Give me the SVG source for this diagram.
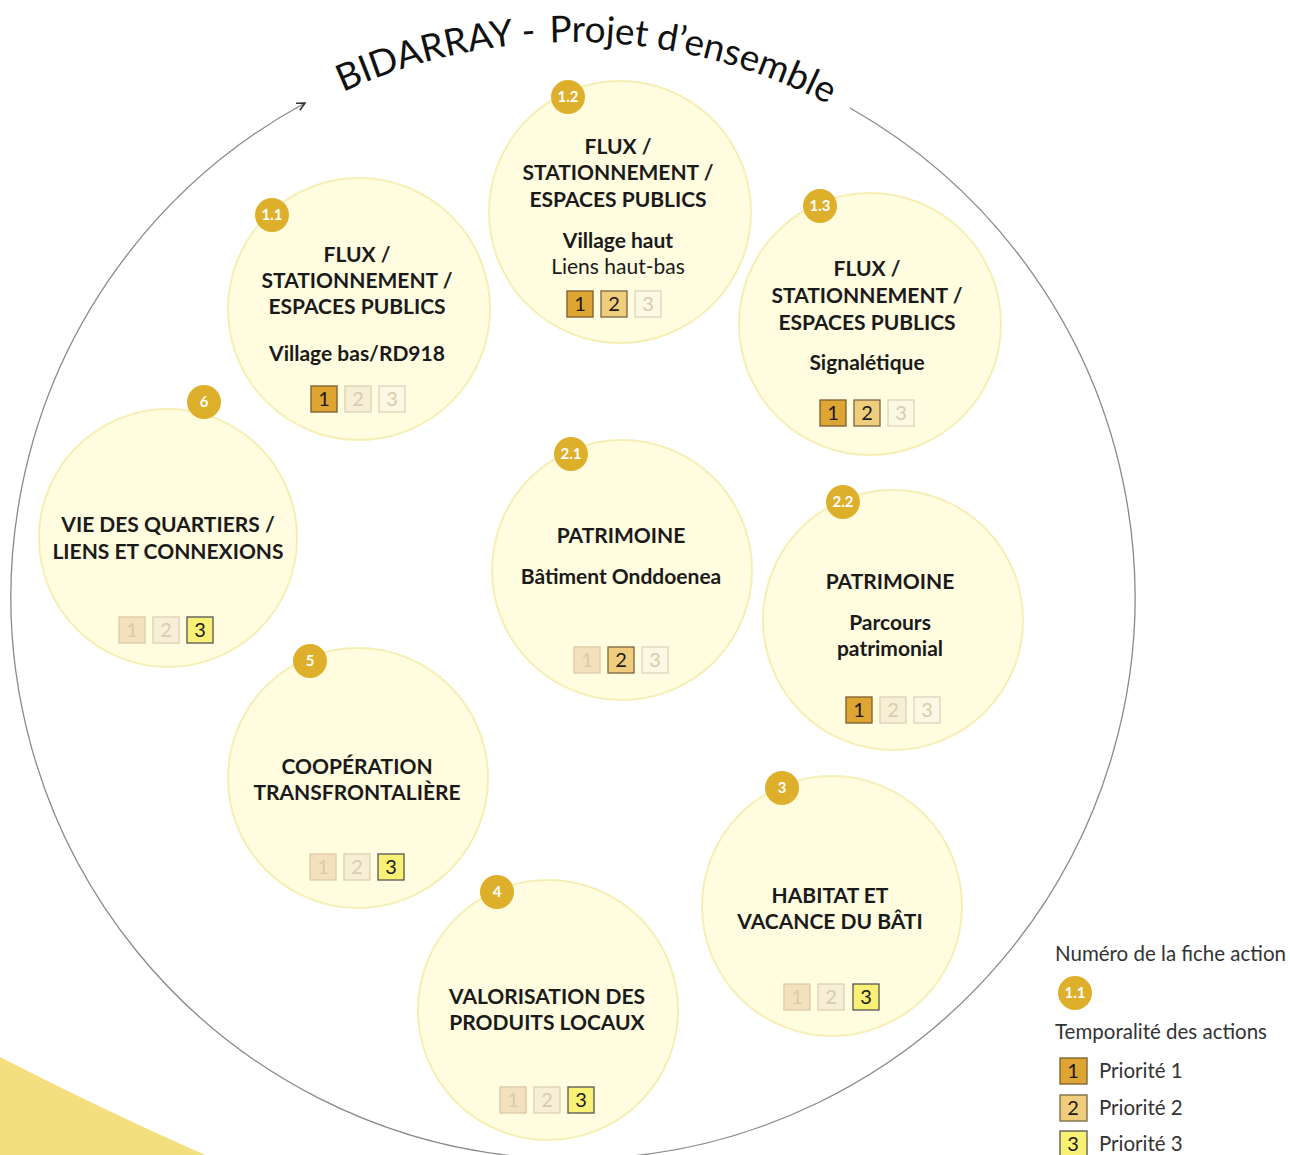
<svg xmlns="http://www.w3.org/2000/svg" width="1290" height="1155" viewBox="0 0 1290 1155">
<style>
.node{fill:#FFFCDF;stroke:#F6EFB5;stroke-width:2}
.badge{fill:#DEAF2A}
.bl{font-family:Lato,"Liberation Sans",sans-serif;font-weight:bold;font-size:15px;fill:#fff;text-anchor:middle}
.h{font-family:Lato,"Liberation Sans",sans-serif;font-weight:bold;font-size:21px;fill:#1a1a1a;text-anchor:middle}
.r{font-family:Lato,"Liberation Sans",sans-serif;font-size:21px;fill:#1a1a1a;text-anchor:middle}
.d{font-family:Lato,"Liberation Sans",sans-serif;font-size:20px;text-anchor:middle;fill:#1a1a1a}
.dI{fill:#D9CBAE}
.b1{fill:#DFA533;stroke:#7A5C2E;stroke-width:1.3}
.b2{fill:#F0CD7C;stroke:#7A6440;stroke-width:1.3}
.b3{fill:#F9F176;stroke:#555;stroke-width:1.3}
.i1{fill:#F2E1BC;stroke:#D9C9A6;stroke-width:1.3}
.i2{fill:#F7EFD5;stroke:#DCD0B5;stroke-width:1.3}
.i3{fill:#FBF8E3;stroke:#DDD3BC;stroke-width:1.3}
.lg{font-family:Lato,"Liberation Sans",sans-serif;font-size:20.5px;fill:#333}
.title{font-family:Lato,"Liberation Sans",sans-serif;font-size:37px;fill:#111}
</style>
<defs>
<marker id="arr" viewBox="0 0 10 10" refX="9" refY="5" markerWidth="10" markerHeight="10" markerUnits="userSpaceOnUse" orient="auto">
<path d="M1,1 L9,5 L1,9" fill="none" stroke="#333" stroke-width="1.6"/>
</marker>
<path id="tp" d="M216.3,171.9 A555,555 0 0 1 929.7,171.9"/>
</defs>
<rect width="1290" height="1155" fill="#fff"/>
<path d="M0,1057 Q97,1107 205,1155 L0,1155 Z" fill="#F4DF7E"/>
<g id="connectors">
<path d="M850,108 A562,562 0 1 1 305,103" fill="none" stroke="#8a8a8a" stroke-width="1.3" marker-end="url(#arr)"/>
</g>
<g id="title">
<text class="title"><textPath href="#tp" startOffset="150">BIDARRAY -</textPath></text>
<text class="title"><textPath href="#tp" startOffset="364">Projet</textPath></text>
<text class="title"><textPath href="#tp" startOffset="470">d’ensemble</textPath></text>
</g>

<g id="n11">
<circle class="node" cx="359" cy="309" r="131"/>
<circle class="badge" cx="272" cy="215" r="17"/><text class="bl" x="272" y="220">1.1</text>
<text class="h" x="357" y="262">FLUX /</text>
<text class="h" x="357" y="288">STATIONNEMENT /</text>
<text class="h" x="357" y="314">ESPACES PUBLICS</text>
<text class="h" x="357" y="361">Village bas/RD918</text>
<rect class="b1" x="311" y="386" width="26" height="26"/><text class="d" x="324" y="406">1</text>
<rect class="i2" x="345" y="386" width="26" height="26"/><text class="d dI" x="358" y="406">2</text>
<rect class="i3" x="379" y="386" width="26" height="26"/><text class="d dI" x="392" y="406">3</text>
</g>

<g id="n12">
<circle class="node" cx="620" cy="212" r="131"/>
<circle class="badge" cx="568" cy="97" r="17"/><text class="bl" x="568" y="102">1.2</text>
<text class="h" x="618" y="154">FLUX /</text>
<text class="h" x="618" y="180">STATIONNEMENT /</text>
<text class="h" x="618" y="207">ESPACES PUBLICS</text>
<text class="h" x="618" y="248">Village haut</text>
<text class="r" x="618" y="274">Liens haut-bas</text>
<rect class="b1" x="567" y="291" width="26" height="26"/><text class="d" x="580" y="311">1</text>
<rect class="b2" x="601" y="291" width="26" height="26"/><text class="d" x="614" y="311">2</text>
<rect class="i3" x="635" y="291" width="26" height="26"/><text class="d dI" x="648" y="311">3</text>
</g>

<g id="n13">
<circle class="node" cx="870" cy="324" r="131"/>
<circle class="badge" cx="820" cy="206" r="17"/><text class="bl" x="820" y="211">1.3</text>
<text class="h" x="867" y="276">FLUX /</text>
<text class="h" x="867" y="303">STATIONNEMENT /</text>
<text class="h" x="867" y="330">ESPACES PUBLICS</text>
<text class="h" x="867" y="370">Signalétique</text>
<rect class="b1" x="820" y="400" width="26" height="26"/><text class="d" x="833" y="420">1</text>
<rect class="b2" x="854" y="400" width="26" height="26"/><text class="d" x="867" y="420">2</text>
<rect class="i3" x="888" y="400" width="26" height="26"/><text class="d dI" x="901" y="420">3</text>
</g>

<g id="n6">
<circle class="node" cx="168" cy="538" r="129"/>
<circle class="badge" cx="204" cy="402" r="17"/><text class="bl" x="204" y="407">6</text>
<text class="h" x="168" y="532">VIE DES QUARTIERS /</text>
<text class="h" x="168" y="559">LIENS ET CONNEXIONS</text>
<rect class="i1" x="119" y="617" width="26" height="26"/><text class="d dI" x="132" y="637">1</text>
<rect class="i2" x="153" y="617" width="26" height="26"/><text class="d dI" x="166" y="637">2</text>
<rect class="b3" x="187" y="617" width="26" height="26"/><text class="d" x="200" y="637">3</text>
</g>

<g id="n21">
<circle class="node" cx="622" cy="570" r="130"/>
<circle class="badge" cx="571" cy="454" r="17"/><text class="bl" x="571" y="459">2.1</text>
<text class="h" x="621" y="543">PATRIMOINE</text>
<text class="h" x="621" y="584">Bâtiment Onddoenea</text>
<rect class="i1" x="574" y="647" width="26" height="26"/><text class="d dI" x="587" y="667">1</text>
<rect class="b2" x="608" y="647" width="26" height="26"/><text class="d" x="621" y="667">2</text>
<rect class="i3" x="642" y="647" width="26" height="26"/><text class="d dI" x="655" y="667">3</text>
</g>

<g id="n22">
<circle class="node" cx="893" cy="620" r="130"/>
<circle class="badge" cx="843" cy="502" r="17"/><text class="bl" x="843" y="507">2.2</text>
<text class="h" x="890" y="589">PATRIMOINE</text>
<text class="h" x="890" y="630">Parcours</text>
<text class="h" x="890" y="656">patrimonial</text>
<rect class="b1" x="846" y="697" width="26" height="26"/><text class="d" x="859" y="717">1</text>
<rect class="i2" x="880" y="697" width="26" height="26"/><text class="d dI" x="893" y="717">2</text>
<rect class="i3" x="914" y="697" width="26" height="26"/><text class="d dI" x="927" y="717">3</text>
</g>

<g id="n5">
<circle class="node" cx="358" cy="778" r="130"/>
<circle class="badge" cx="310" cy="661" r="17"/><text class="bl" x="310" y="666">5</text>
<text class="h" x="357" y="774">COOPÉRATION</text>
<text class="h" x="357" y="800">TRANSFRONTALIÈRE</text>
<rect class="i1" x="310" y="854" width="26" height="26"/><text class="d dI" x="323" y="874">1</text>
<rect class="i2" x="344" y="854" width="26" height="26"/><text class="d dI" x="357" y="874">2</text>
<rect class="b3" x="378" y="854" width="26" height="26"/><text class="d" x="391" y="874">3</text>
</g>

<g id="n3">
<circle class="node" cx="832" cy="906" r="130"/>
<circle class="badge" cx="782" cy="788" r="17"/><text class="bl" x="782" y="793">3</text>
<text class="h" x="830" y="903">HABITAT ET</text>
<text class="h" x="830" y="929">VACANCE DU BÂTI</text>
<rect class="i1" x="784" y="984" width="26" height="26"/><text class="d dI" x="797" y="1004">1</text>
<rect class="i2" x="818" y="984" width="26" height="26"/><text class="d dI" x="831" y="1004">2</text>
<rect class="b3" x="853" y="984" width="26" height="26"/><text class="d" x="866" y="1004">3</text>
</g>

<g id="n4">
<circle class="node" cx="548" cy="1010" r="130"/>
<circle class="badge" cx="497" cy="892" r="17"/><text class="bl" x="497" y="897">4</text>
<text class="h" x="547" y="1004">VALORISATION DES</text>
<text class="h" x="547" y="1030">PRODUITS LOCAUX</text>
<rect class="i1" x="500" y="1087" width="26" height="26"/><text class="d dI" x="513" y="1107">1</text>
<rect class="i2" x="534" y="1087" width="26" height="26"/><text class="d dI" x="547" y="1107">2</text>
<rect class="b3" x="568" y="1087" width="26" height="26"/><text class="d" x="581" y="1107">3</text>
</g>

<g id="legend">
<text class="lg" x="1055" y="961">Numéro de la fiche action</text>
<circle class="badge" cx="1075" cy="993" r="17"/><text class="bl" x="1075" y="998">1.1</text>
<text class="lg" x="1055" y="1039">Temporalité des actions</text>
<rect class="b1" x="1060" y="1058" width="27" height="26"/><text class="d" x="1073" y="1078">1</text>
<text class="lg" x="1099" y="1078">Priorité 1</text>
<rect class="b2" x="1060" y="1095" width="27" height="26"/><text class="d" x="1073" y="1115">2</text>
<text class="lg" x="1099" y="1115">Priorité 2</text>
<rect class="b3" x="1060" y="1131" width="27" height="26"/><text class="d" x="1073" y="1151">3</text>
<text class="lg" x="1099" y="1151">Priorité 3</text>
</g>
</svg>
